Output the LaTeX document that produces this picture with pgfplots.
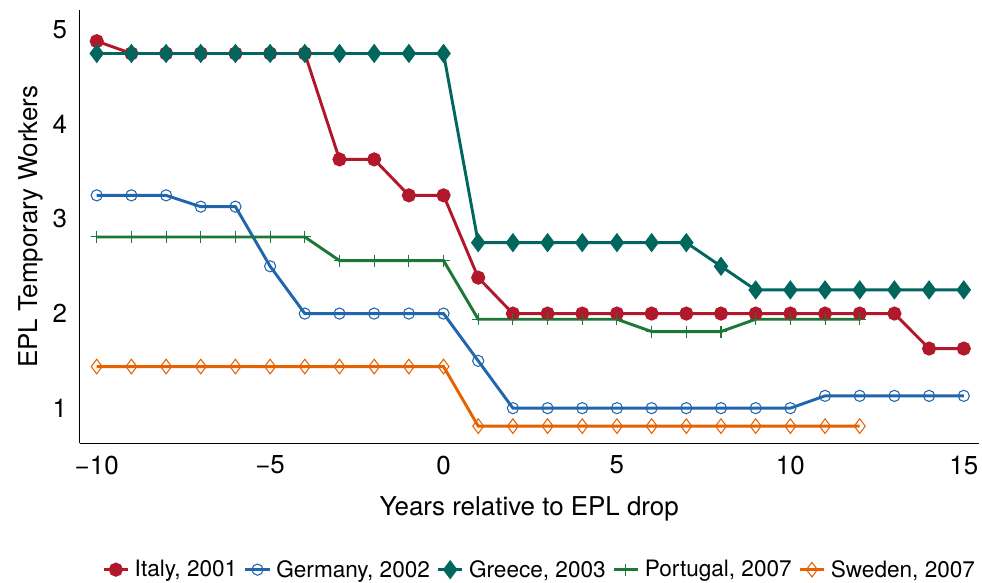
\documentclass[border=0pt]{standalone}
\usepackage{pgfplots}
\pgfplotsset{compat=1.18}
\usepackage{fontspec}
\setmainfont{TeX Gyre Heros}
\definecolor{cit}{HTML}{B2182B}
\definecolor{cde}{HTML}{2166AC}
\definecolor{cgr}{HTML}{01665E}
\definecolor{cpt}{HTML}{1B7837}
\definecolor{cse}{HTML}{E66101}
\begin{document}
\begin{tikzpicture}
\path[use as bounding box] (-60pt,-105pt) rectangle (679pt,333.5pt);
\begin{axis}[
  scale only axis, width=676.5pt, height=326pt,
  xmin=-10.49, xmax=15.43, ymin=0.63, ymax=5.21,
  axis x line*=bottom, axis y line*=left,
  axis line style={line width=0.8pt, -},
  xtick={-10,-5,0,5,10,15}, xticklabels={−10,−5,0,5,10,15},
  ytick={1,2,3,4,5},
  major tick length=0pt,
  tick label style={font=\fontsize{19.5}{22}\selectfont},
  /pgf/number format/assume math mode=true,
  xticklabel style={yshift=-6pt},
  yticklabel style={xshift=-6pt},
  xlabel={Years relative to EPL drop},
  ylabel={EPL Temporary Workers},
  label style={font=\fontsize{19.5}{22}\selectfont},
  xlabel style={yshift=-10pt},
  ylabel style={yshift=0pt},
  legend columns=5,
  legend style={draw=none, font=\fontsize{17}{19}\selectfont, at={(0.512,-0.292)}, anchor=center,
    inner sep=1pt,
    /tikz/every even column/.append style={column sep=3pt},
    /tikz/every odd column/.append style={column sep=2pt}},
  legend image code/.code={\draw[#1] (-0.32cm,0) -- (0.32cm,0); \draw[#1, mark repeat=2, mark phase=2] plot coordinates {(-0.32cm,0) (0cm,0) (0.32cm,0)};},
  every axis plot/.append style={line width=2.2pt},
]
\addplot[cit, mark=*, mark size=4.2pt, mark options={solid}] coordinates {
(-10,4.88) (-9,4.75) (-8,4.75) (-7,4.75) (-6,4.75) (-5,4.75) (-4,4.75) (-3,3.63) (-2,3.63) (-1,3.25) (0,3.25)
(1,2.38) (2,2.0) (3,2.0) (4,2.0) (5,2.0) (6,2.0) (7,2.0) (8,2.0) (9,2.0) (10,2.0) (11,2.0) (12,2.0) (13,2.0) (14,1.63) (15,1.63)};
\addlegendentry{Italy, 2001}
\addplot[cde, mark=o, mark size=4.2pt, mark options={line width=0.8pt}] coordinates {
(-10,3.25) (-9,3.25) (-8,3.25) (-7,3.13) (-6,3.13) (-5,2.5) (-4,2.0) (-3,2.0) (-2,2.0) (-1,2.0) (0,2.0)
(1,1.5) (2,1.0) (3,1.0) (4,1.0) (5,1.0) (6,1.0) (7,1.0) (8,1.0) (9,1.0) (10,1.0) (11,1.13) (12,1.13) (13,1.13) (14,1.13) (15,1.13)};
\addlegendentry{Germany, 2002}
\addplot[cgr, mark=diamond*, mark size=5.5pt] coordinates {
(-10,4.75) (-9,4.75) (-8,4.75) (-7,4.75) (-6,4.75) (-5,4.75) (-4,4.75) (-3,4.75) (-2,4.75) (-1,4.75) (0,4.75)
(1,2.75) (2,2.75) (3,2.75) (4,2.75) (5,2.75) (6,2.75) (7,2.75) (8,2.5) (9,2.25) (10,2.25) (11,2.25) (12,2.25) (13,2.25) (14,2.25) (15,2.25)};
\addlegendentry{Greece, 2003}
\addplot[cpt, mark=+, mark size=4.5pt, mark options={line width=0.8pt}] coordinates {
(-10,2.81) (-9,2.81) (-8,2.81) (-7,2.81) (-6,2.81) (-5,2.81) (-4,2.81) (-3,2.56) (-2,2.56) (-1,2.56) (0,2.56)
(1,1.94) (2,1.94) (3,1.94) (4,1.94) (5,1.94) (6,1.81) (7,1.81) (8,1.81) (9,1.94) (10,1.94) (11,1.94) (12,1.94)};
\addlegendentry{Portugal, 2007}
\addplot[cse, mark=diamond, mark size=5.5pt, mark options={line width=0.8pt}] coordinates {
(-10,1.44) (-9,1.44) (-8,1.44) (-7,1.44) (-6,1.44) (-5,1.44) (-4,1.44) (-3,1.44) (-2,1.44) (-1,1.44) (0,1.44)
(1,0.81) (2,0.81) (3,0.81) (4,0.81) (5,0.81) (6,0.81) (7,0.81) (8,0.81) (9,0.81) (10,0.81) (11,0.81) (12,0.81)};
\addlegendentry{Sweden, 2007}
\end{axis}
\end{tikzpicture}
\end{document}
